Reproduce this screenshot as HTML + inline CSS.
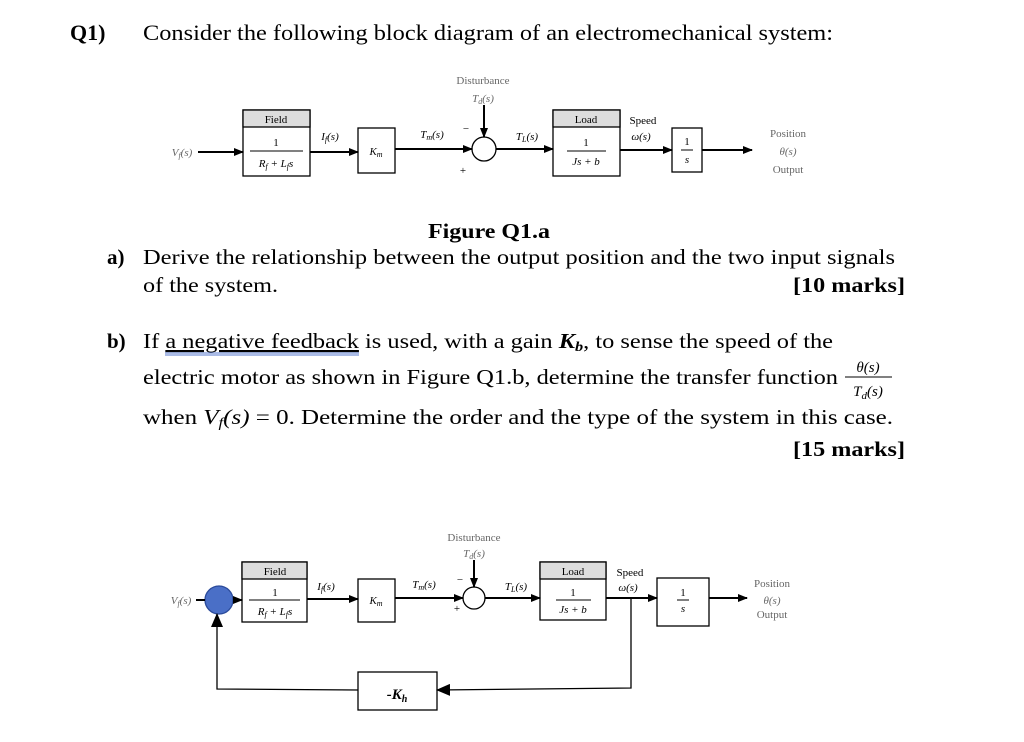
<!DOCTYPE html>
<html><head><meta charset="utf-8"><style>
html,body{margin:0;padding:0;background:#fff;}
svg{display:block;}
.t{font-family:"Liberation Serif",serif;fill:#000;}
.g{font-family:"Liberation Serif",serif;fill:#666;}
</style></head><body>
<svg width="1024" height="742" viewBox="0 0 1024 742" xmlns="http://www.w3.org/2000/svg">
<defs>
<marker id="a" markerWidth="10" markerHeight="8" refX="9" refY="4" orient="auto" markerUnits="userSpaceOnUse"><path d="M0,0 L10,4 L0,8 Z" fill="#000"/></marker>
<marker id="b" markerWidth="14" markerHeight="12" refX="13" refY="6" orient="auto" markerUnits="userSpaceOnUse"><path d="M0,0 L14,6 L0,12 Z" fill="#000"/></marker>
</defs>

<!-- Text -->
<text class="t" x="70" y="40" font-size="22" font-weight="bold">Q1)</text>
<text class="t" x="143" y="40" font-size="22" textLength="690" lengthAdjust="spacingAndGlyphs">Consider the following block diagram of an electromechanical system:</text>

<!-- Diagram 1 -->
<g stroke="#000" fill="none" stroke-width="1.3">
<rect x="243" y="110" width="67" height="66"/>
<rect x="243" y="110" width="67" height="17" fill="#ddd"/>
<rect x="358" y="128" width="37" height="45"/>
<circle cx="484" cy="149" r="12"/>
<rect x="553" y="110" width="67" height="66"/>
<rect x="553" y="110" width="67" height="17" fill="#ddd"/>
<rect x="672" y="128" width="30" height="44"/>
</g>
<g stroke="#000" stroke-width="2">
<line x1="198" y1="152" x2="243" y2="152" marker-end="url(#a)"/>
<line x1="310" y1="152" x2="358" y2="152" marker-end="url(#a)"/>
<line x1="395" y1="149" x2="472" y2="149" marker-end="url(#a)"/>
<line x1="484" y1="105" x2="484" y2="137" marker-end="url(#a)"/>
<line x1="496" y1="149" x2="553" y2="149" marker-end="url(#a)"/>
<line x1="620" y1="150" x2="672" y2="150" marker-end="url(#a)"/>
<line x1="702" y1="150" x2="752" y2="150" marker-end="url(#a)"/>
</g>
<g font-size="11">
<text class="t" x="276" y="123" text-anchor="middle">Field</text>
<text class="t" x="276" y="146" text-anchor="middle">1</text>
<line x1="250" y1="151" x2="303" y2="151" stroke="#000"/>
<text class="t" x="276" y="167" text-anchor="middle" font-style="italic">R<tspan font-size="8" dy="2">f</tspan><tspan dy="-2"> + L</tspan><tspan font-size="8" dy="2">f</tspan><tspan dy="-2">s</tspan></text>
<text class="t" x="376" y="155" text-anchor="middle" font-style="italic">K<tspan font-size="8" dy="2">m</tspan></text>
<text class="t" x="330" y="140" text-anchor="middle" font-style="italic">I<tspan font-size="8" dy="2">f</tspan><tspan dy="-2">(s)</tspan></text>
<text class="t" x="432" y="138" text-anchor="middle" font-style="italic">T<tspan font-size="8" dy="2">m</tspan><tspan dy="-2">(s)</tspan></text>
<text class="t" x="527" y="140" text-anchor="middle" font-style="italic">T<tspan font-size="8" dy="2">L</tspan><tspan dy="-2">(s)</tspan></text>
<text class="t" x="466" y="132" text-anchor="middle">−</text>
<text class="t" x="463" y="174" text-anchor="middle">+</text>
<text class="g" x="483" y="84" text-anchor="middle">Disturbance</text>
<text class="g" x="483" y="102" text-anchor="middle" font-style="italic">T<tspan font-size="8" dy="2">d</tspan><tspan dy="-2">(s)</tspan></text>
<text class="t" x="586" y="123" text-anchor="middle">Load</text>
<text class="t" x="586" y="146" text-anchor="middle">1</text>
<line x1="567" y1="151" x2="606" y2="151" stroke="#000"/>
<text class="t" x="586" y="165" text-anchor="middle" font-style="italic">Js + b</text>
<text class="t" x="643" y="124" text-anchor="middle">Speed</text>
<text class="t" x="641" y="140" text-anchor="middle" font-style="italic">ω(s)</text>
<text class="t" x="687" y="145" text-anchor="middle">1</text>
<line x1="681" y1="150" x2="693" y2="150" stroke="#000"/>
<text class="t" x="687" y="163" text-anchor="middle" font-style="italic">s</text>
<text class="g" x="182" y="156" text-anchor="middle" font-style="italic">V<tspan font-size="8" dy="2">f</tspan><tspan dy="-2">(s)</tspan></text>
<text class="g" x="788" y="137" text-anchor="middle">Position</text>
<text class="g" x="788" y="155" text-anchor="middle" font-style="italic">θ(s)</text>
<text class="g" x="788" y="173" text-anchor="middle">Output</text>
</g>

<text class="t" x="428" y="238" font-size="21" font-weight="bold" textLength="122" lengthAdjust="spacingAndGlyphs">Figure Q1.a</text>
<text class="t" x="107" y="264" font-size="21" font-weight="bold">a)</text>
<text class="t" x="143" y="264" font-size="21" textLength="752" lengthAdjust="spacingAndGlyphs">Derive the relationship between the output position and the two input signals</text>
<text class="t" x="143" y="292" font-size="21" textLength="135" lengthAdjust="spacingAndGlyphs">of the system.</text>
<text class="t" x="793" y="292" font-size="21" font-weight="bold" textLength="112" lengthAdjust="spacingAndGlyphs">[10 marks]</text>

<text class="t" x="107" y="348" font-size="21" font-weight="bold">b)</text>
<text class="t" x="143" y="348" font-size="21" textLength="690" lengthAdjust="spacingAndGlyphs">If <tspan text-decoration="underline">a negative feedback</tspan> is used, with a gain <tspan font-weight="bold" font-style="italic">K<tspan font-size="14" dy="3">b</tspan></tspan><tspan dy="-3">, to sense the speed of the</tspan></text>
<line x1="165" y1="353" x2="359" y2="353" stroke="#5577cc" stroke-width="1"/>
<line x1="165" y1="355" x2="359" y2="355" stroke="#5577cc" stroke-width="1"/>
<text class="t" x="143" y="384" font-size="21" textLength="695" lengthAdjust="spacingAndGlyphs">electric motor as shown in Figure Q1.b, determine the transfer function</text>
<text class="t" x="868" y="372" font-size="15" font-style="italic" text-anchor="middle">θ(s)</text>
<line x1="845" y1="377" x2="892" y2="377" stroke="#000" stroke-width="1"/>
<text class="t" x="868" y="396" font-size="15" font-style="italic" text-anchor="middle">T<tspan font-size="11" dy="3">d</tspan><tspan dy="-3">(s)</tspan></text>
<text class="t" x="143" y="424" font-size="21" textLength="750" lengthAdjust="spacingAndGlyphs">when <tspan font-style="italic">V<tspan font-size="14" dy="3">f</tspan><tspan dy="-3">(s)</tspan></tspan> = 0. Determine the order and the type of the system in this case.</text>
<text class="t" x="793" y="456" font-size="21" font-weight="bold" textLength="112" lengthAdjust="spacingAndGlyphs">[15 marks]</text>

<!-- Diagram 2 -->
<g stroke="#000" fill="none" stroke-width="1.3">
<rect x="242" y="562" width="65" height="60"/>
<rect x="242" y="562" width="65" height="17" fill="#ddd"/>
<rect x="358" y="579" width="37" height="43"/>
<circle cx="474" cy="598" r="11"/>
<rect x="540" y="562" width="66" height="58"/>
<rect x="540" y="562" width="66" height="17" fill="#ddd"/>
<rect x="657" y="578" width="52" height="48"/>
<rect x="358" y="672" width="79" height="38"/>
</g>
<circle cx="219" cy="600" r="14" fill="#4a6fc7" stroke="#2a4a9a" stroke-width="1.3"/>
<g stroke="#000" stroke-width="2" fill="none">
<line x1="196" y1="600" x2="205" y2="600"/>
<line x1="233" y1="600" x2="242" y2="600" marker-end="url(#a)"/>
<line x1="307" y1="599" x2="358" y2="599" marker-end="url(#a)"/>
<line x1="395" y1="598" x2="463" y2="598" marker-end="url(#a)"/>
<line x1="474" y1="560" x2="474" y2="587" marker-end="url(#a)"/>
<line x1="485" y1="598" x2="540" y2="598" marker-end="url(#a)"/>
<line x1="606" y1="598" x2="657" y2="598" marker-end="url(#a)"/>
<line x1="709" y1="598" x2="747" y2="598" marker-end="url(#a)"/>
<polyline points="631,598 631,688 437,690" marker-end="url(#b)" stroke-width="1.3"/>
<polyline points="358,690 217,689 217,614" marker-end="url(#b)" stroke-width="1.3"/>
</g>
<g font-size="11">
<text class="t" x="275" y="575" text-anchor="middle">Field</text>
<text class="t" x="275" y="596" text-anchor="middle">1</text>
<line x1="249" y1="600" x2="300" y2="600" stroke="#000"/>
<text class="t" x="275" y="615" text-anchor="middle" font-style="italic">R<tspan font-size="8" dy="2">f</tspan><tspan dy="-2"> + L</tspan><tspan font-size="8" dy="2">f</tspan><tspan dy="-2">s</tspan></text>
<text class="t" x="376" y="604" text-anchor="middle" font-style="italic">K<tspan font-size="8" dy="2">m</tspan></text>
<text class="t" x="326" y="590" text-anchor="middle" font-style="italic">I<tspan font-size="8" dy="2">f</tspan><tspan dy="-2">(s)</tspan></text>
<text class="t" x="424" y="588" text-anchor="middle" font-style="italic">T<tspan font-size="8" dy="2">m</tspan><tspan dy="-2">(s)</tspan></text>
<text class="t" x="516" y="590" text-anchor="middle" font-style="italic">T<tspan font-size="8" dy="2">L</tspan><tspan dy="-2">(s)</tspan></text>
<text class="t" x="460" y="583" text-anchor="middle">−</text>
<text class="t" x="457" y="612" text-anchor="middle">+</text>
<text class="g" x="474" y="541" text-anchor="middle">Disturbance</text>
<text class="g" x="474" y="557" text-anchor="middle" font-style="italic">T<tspan font-size="8" dy="2">d</tspan><tspan dy="-2">(s)</tspan></text>
<text class="t" x="573" y="575" text-anchor="middle">Load</text>
<text class="t" x="573" y="596" text-anchor="middle">1</text>
<line x1="556" y1="600" x2="591" y2="600" stroke="#000"/>
<text class="t" x="573" y="613" text-anchor="middle" font-style="italic">Js + b</text>
<text class="t" x="630" y="576" text-anchor="middle">Speed</text>
<text class="t" x="628" y="591" text-anchor="middle" font-style="italic">ω(s)</text>
<text class="t" x="683" y="596" text-anchor="middle">1</text>
<line x1="677" y1="600" x2="689" y2="600" stroke="#000"/>
<text class="t" x="683" y="612" text-anchor="middle" font-style="italic">s</text>
<text class="g" x="181" y="604" text-anchor="middle" font-style="italic">V<tspan font-size="8" dy="2">f</tspan><tspan dy="-2">(s)</tspan></text>
<text class="g" x="772" y="587" text-anchor="middle">Position</text>
<text class="g" x="772" y="604" text-anchor="middle" font-style="italic">θ(s)</text>
<text class="g" x="772" y="618" text-anchor="middle">Output</text>
</g>
<text class="t" x="397" y="699" font-size="15" font-weight="bold" font-style="italic" text-anchor="middle">-K<tspan font-size="10" dy="3">h</tspan></text>
</svg>
</body></html>
